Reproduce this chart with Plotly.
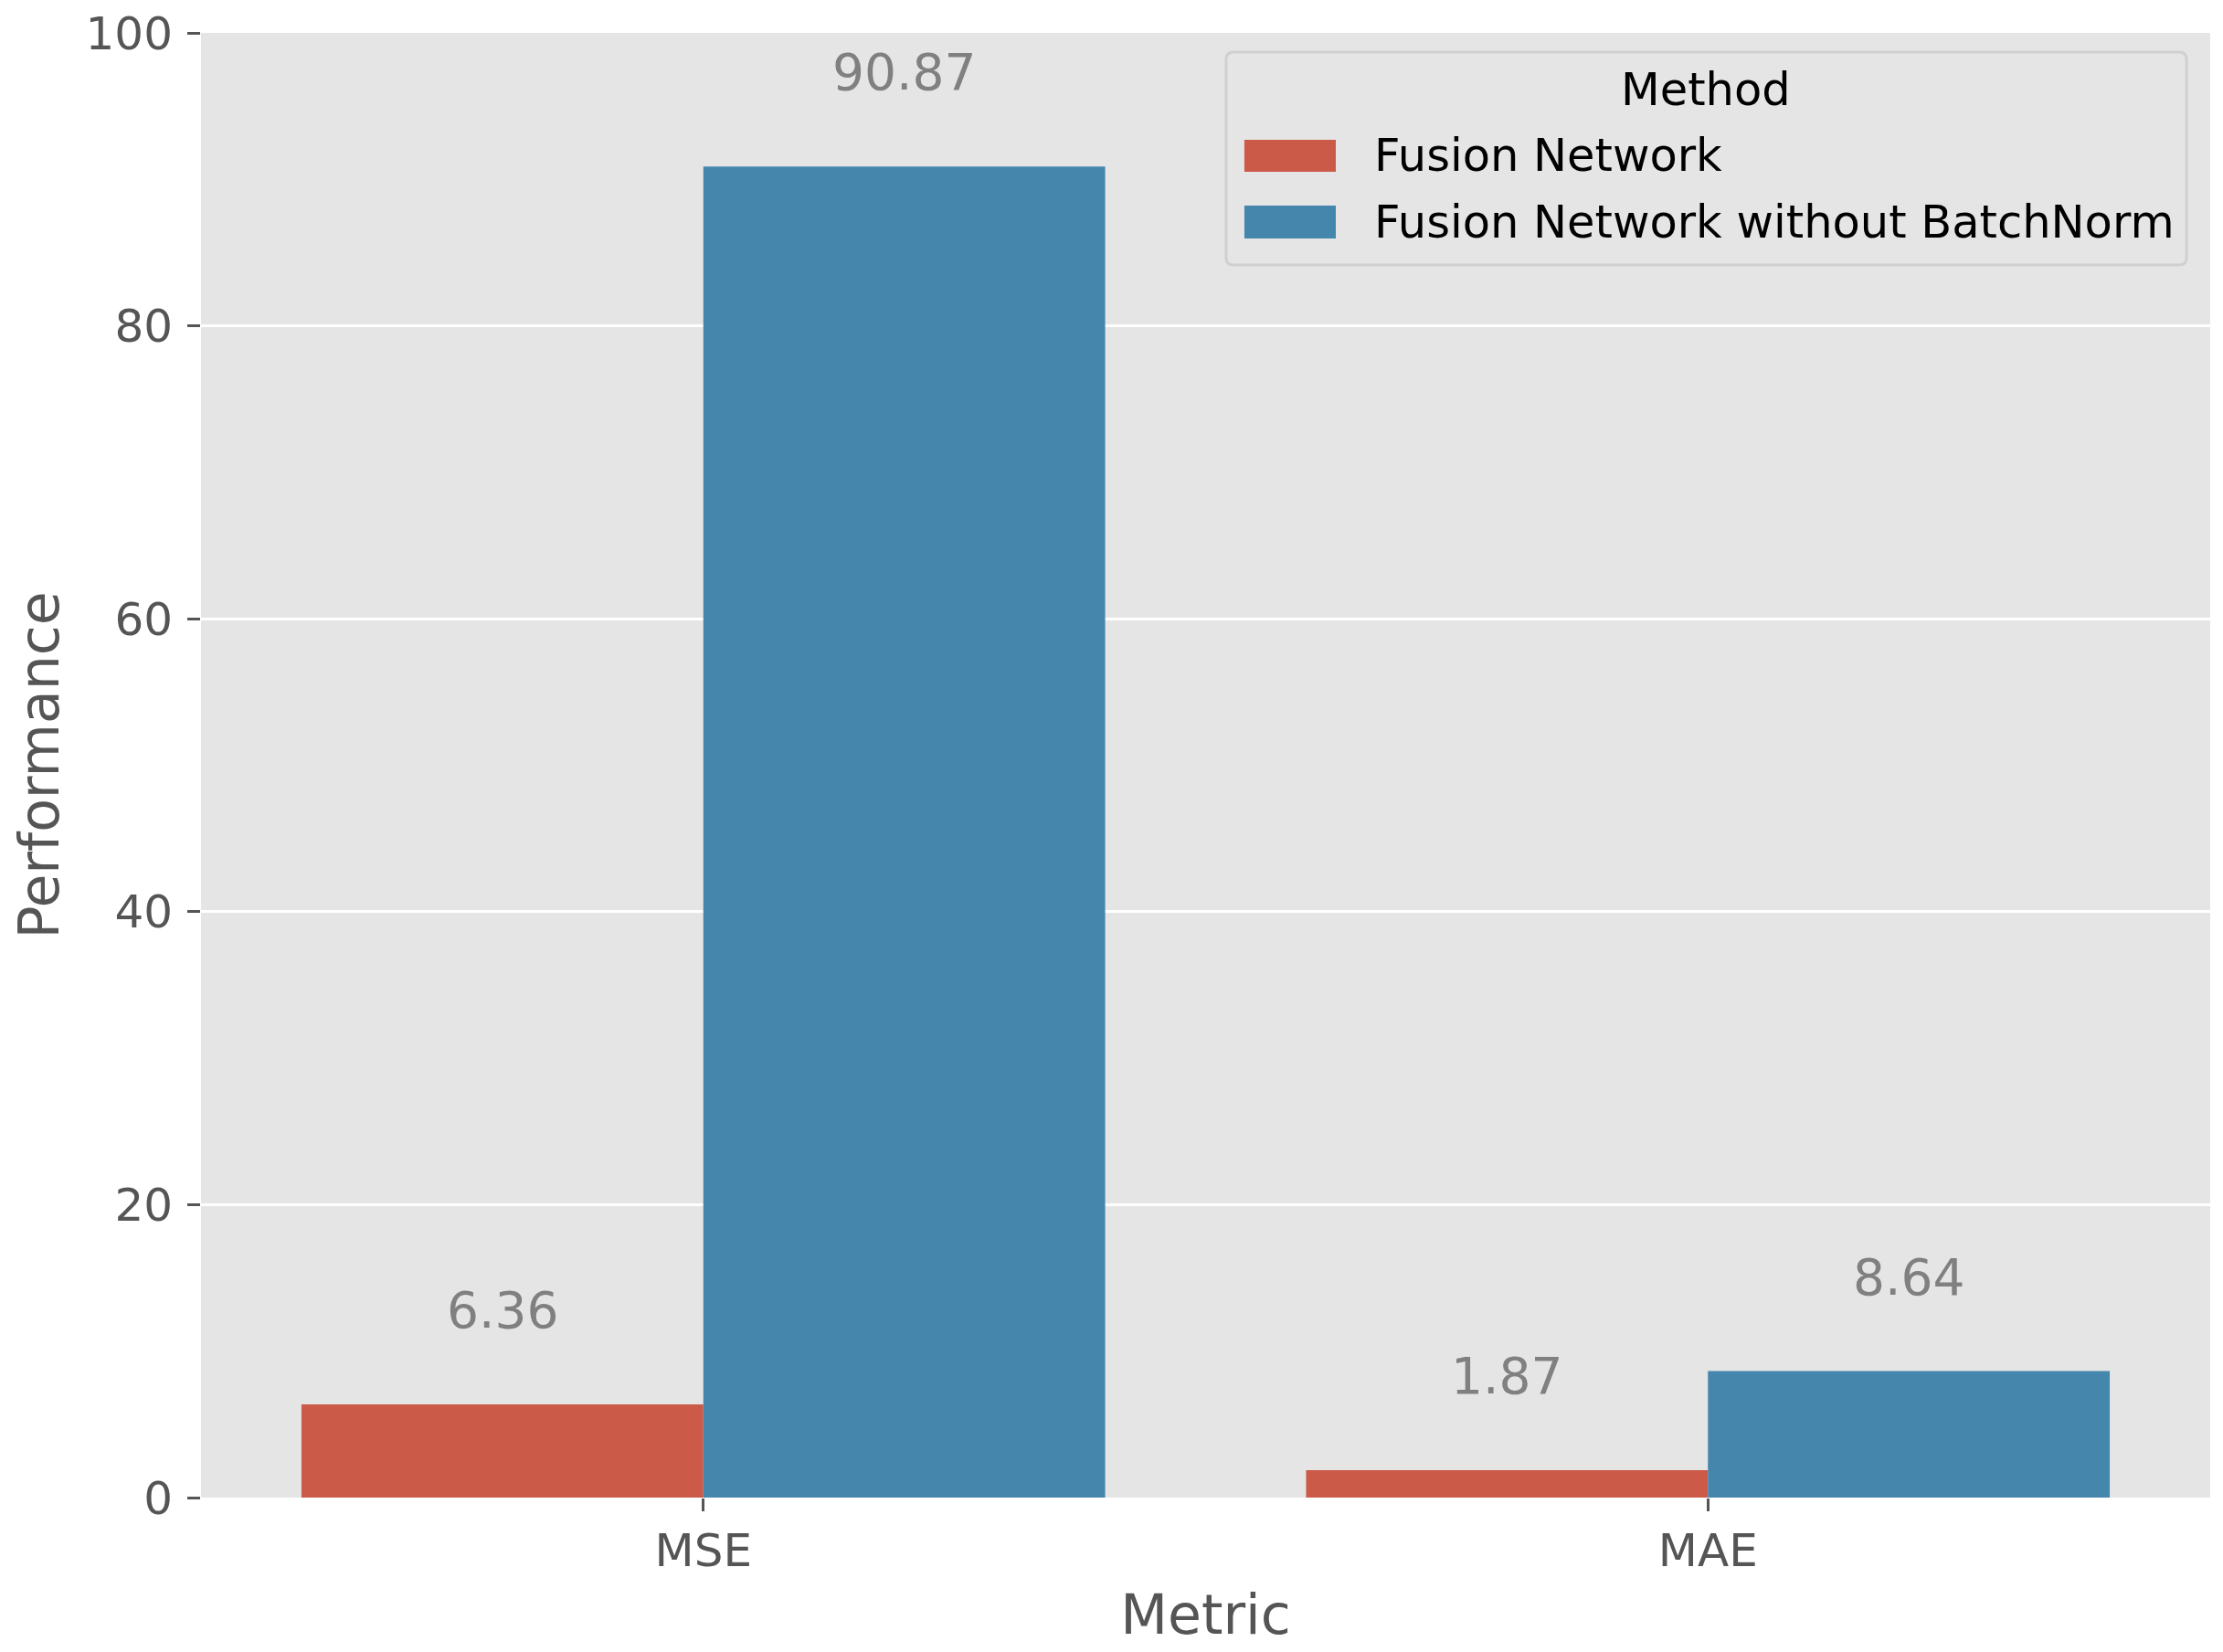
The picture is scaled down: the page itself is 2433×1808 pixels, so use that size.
import plotly.graph_objects as go

metrics = ["MSE", "MAE"]
methods = ["Fusion Network", "Fusion Network without BatchNorm"]
fusion_values = [6.36, 1.87]
no_bn_values = [90.87, 8.64]
colors = ["#CC5A49", "#4586AC"]
y_ticks = [0, 20, 40, 60, 80, 100]
legend_title = "Method"

FONT = "DejaVu Sans"

fig = go.Figure()
for name, vals, col in zip(methods, [fusion_values, no_bn_values], colors):
    fig.add_trace(go.Bar(
        x=metrics, y=vals, name=name, marker=dict(color=col, line=dict(width=0)),
        offsetgroup=name, showlegend=False,
    ))

# value labels above bars
annotations = []
for i, vals in enumerate([fusion_values, no_bn_values]):
    off = -0.2 if i == 0 else 0.2
    for j, v in enumerate(vals):
        annotations.append(dict(
            x=j + off, y=v, xref="x", yref="y", text=f"{v:.2f}",
            showarrow=False, yanchor="middle", yshift=103,
            font=dict(family=FONT, size=55, color="#808080"),
        ))

# custom legend (matplotlib-like frame with wide patches), in paper coordinates
shapes = []
bx0, bx1, by0, by1 = 0.5102, 0.9882, 0.8415, 0.9869
rx, ry = 0.0036, 0.005
path = (f"M {bx0+rx},{by0} L {bx1-rx},{by0} Q {bx1},{by0} {bx1},{by0+ry} "
        f"L {bx1},{by1-ry} Q {bx1},{by1} {bx1-rx},{by1} L {bx0+rx},{by1} "
        f"Q {bx0},{by1} {bx0},{by1-ry} L {bx0},{by0+ry} Q {bx0},{by0} {bx0+rx},{by0} Z")
shapes.append(dict(type="path", path=path, xref="paper", yref="paper",
                   fillcolor="#E5E5E5", line=dict(color="#D0D0D0", width=3), layer="above"))
patch_y = [(0.9052, 0.9270), (0.8596, 0.8821)]
for name, col, (y0, y1) in zip(methods, colors, patch_y):
    shapes.append(dict(type="rect", xref="paper", yref="paper",
                       x0=0.5193, x1=0.5648, y0=y0, y1=y1,
                       fillcolor=col, line=dict(width=0), layer="above"))
    annotations.append(dict(
        x=0.5830, y=(y0 + y1) / 2, xref="paper", yref="paper", text=name,
        showarrow=False, xanchor="left", yanchor="middle",
        font=dict(family=FONT, size=49.5, color="black"),
    ))
annotations.append(dict(
    x=(bx0 + bx1) / 2, y=0.9613, xref="paper", yref="paper", text=legend_title,
    showarrow=False, xanchor="center", yanchor="middle",
    font=dict(family=FONT, size=49.5, color="black"),
))

# page body has an 8px default margin; compensate so the plot area lands at 220..2419 x 36..1639
fig.update_layout(
    width=2425, height=1800,
    margin=dict(l=212, r=14, t=28, b=169),
    paper_bgcolor="white", plot_bgcolor="#E5E5E5",
    barmode="group", bargap=0.2, bargroupgap=0,
    font=dict(family=FONT, color="#555555"),
    annotations=annotations, shapes=shapes,
    showlegend=False,
)
fig.update_xaxes(
    type="category", range=[-0.5, 1.5], automargin=False,
    showgrid=False, zeroline=False, showline=False,
    ticks="outside", ticklen=14, tickwidth=3, tickcolor="#555555",
    tickfont=dict(family=FONT, size=50, color="#555555"),
    title=dict(text="Metric", font=dict(family=FONT, size=60, color="#555555"), standoff=20),
)
fig.update_yaxes(
    range=[0, 100], tickvals=y_ticks, automargin=False, ticklabeloverflow="allow",
    ticklabelstandoff=6,
    showgrid=True, gridcolor="white", gridwidth=3, zeroline=False, showline=False,
    ticks="outside", ticklen=14, tickwidth=3, tickcolor="#555555",
    tickfont=dict(family=FONT, size=50, color="#555555"),
    title=dict(text="Performance", font=dict(family=FONT, size=60, color="#555555"), standoff=14),
)

fig.write_html("out.html")
